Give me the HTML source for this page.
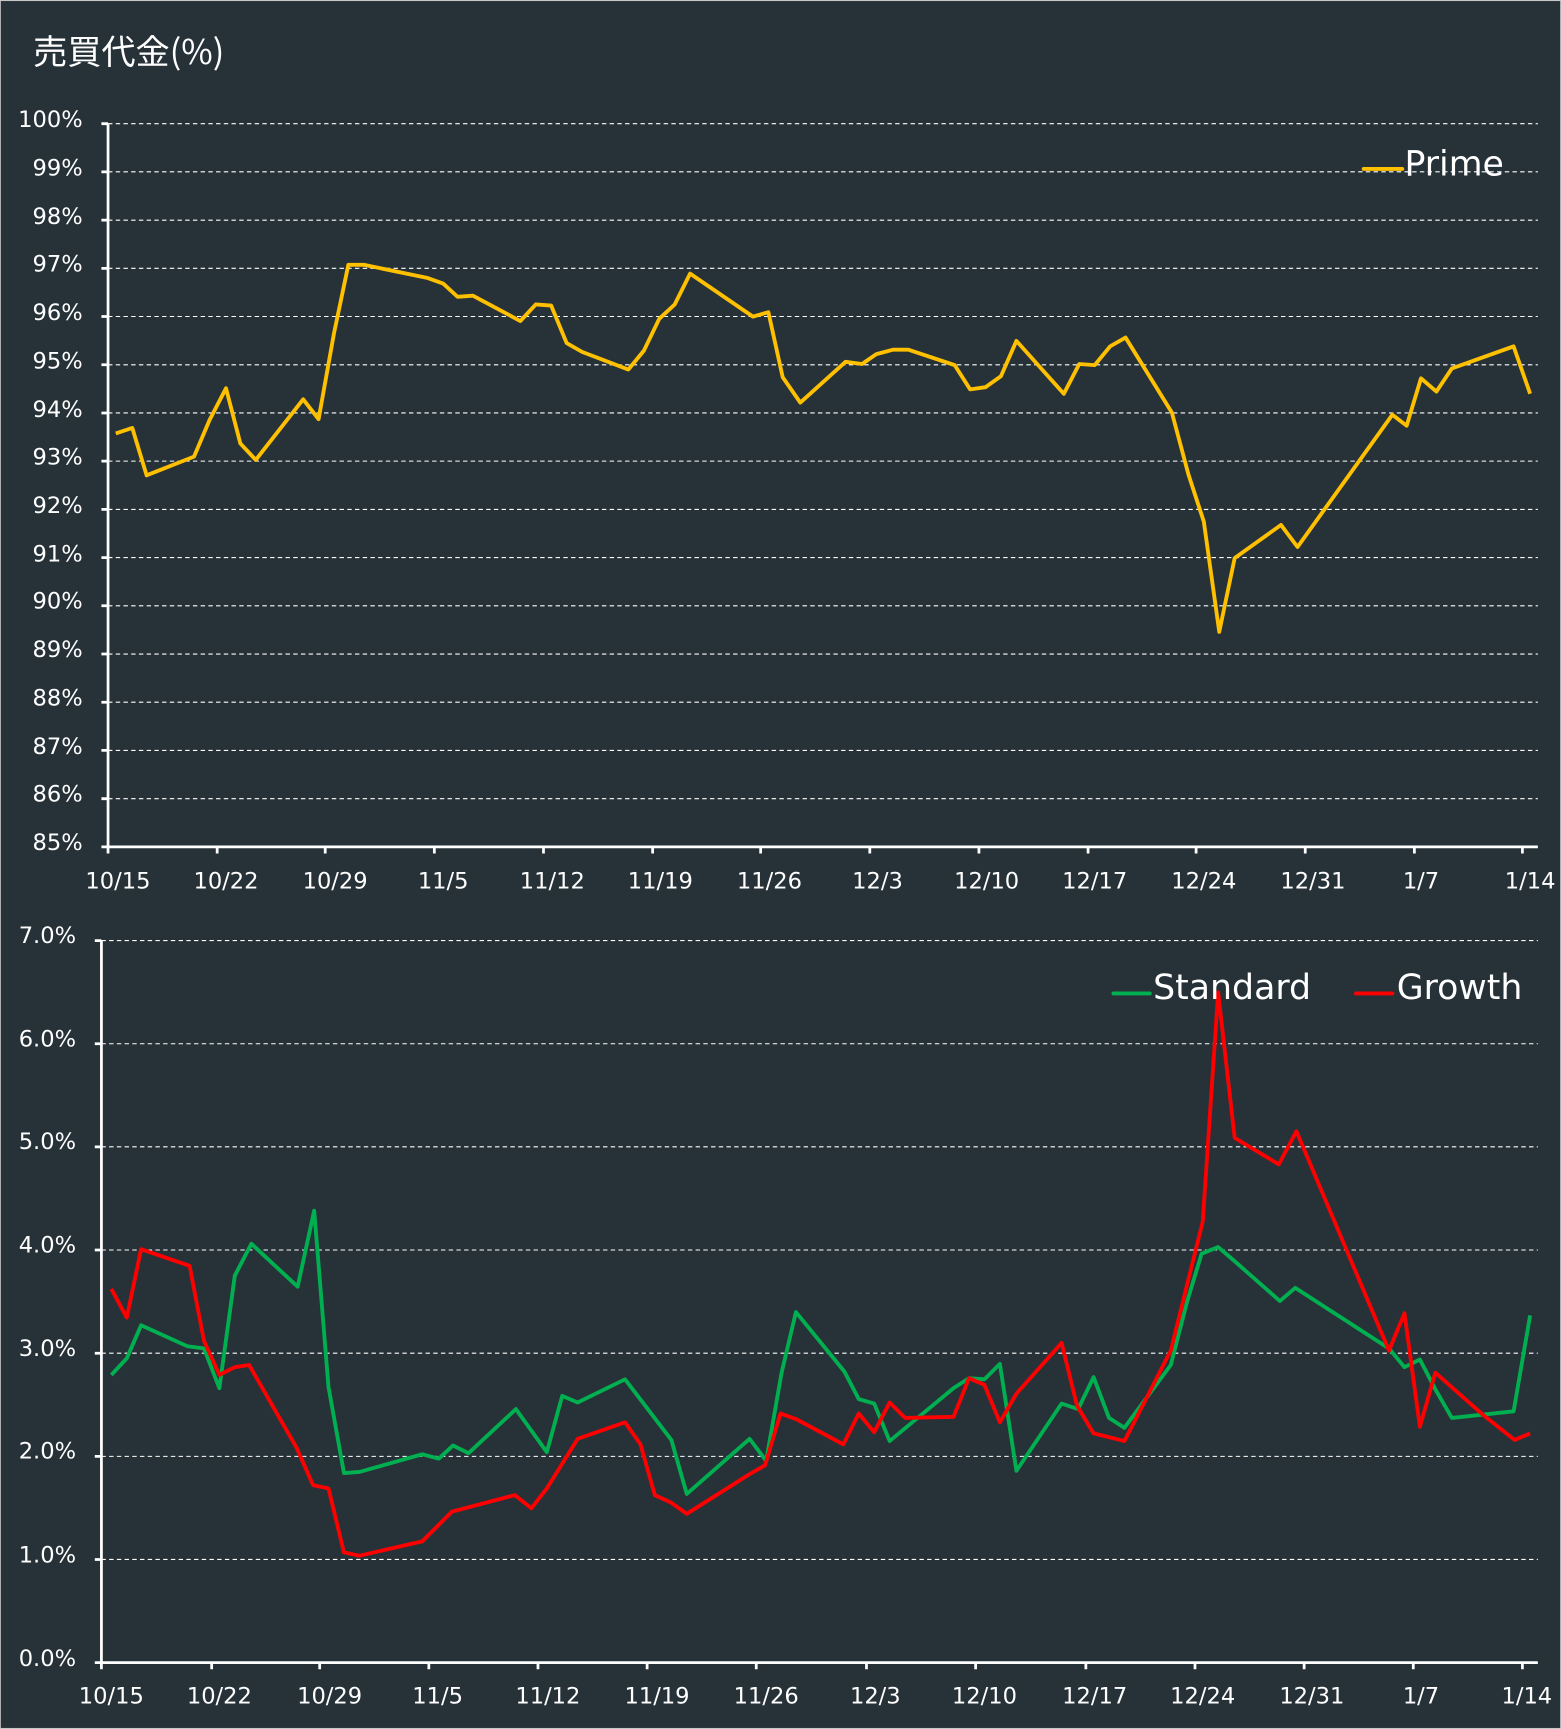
<!DOCTYPE html>
<html><head><meta charset="utf-8"><style>
html,body{margin:0;padding:0;background:#263238;}
svg{display:block;}
text{font-family:"DejaVu Sans","Liberation Sans","Noto Sans CJK JP",sans-serif;fill:#fff;}
</style></head><body>
<svg width="1561" height="1729" viewBox="0 0 1416 1568" xmlns="http://www.w3.org/2000/svg">
<rect x="0" y="0" width="1416" height="1568" fill="#263238" stroke="#c8c8c8" stroke-width="1.5"/>
<text x="30" y="58" font-size="31" style="font-family:'Noto Sans CJK JP',sans-serif">売買代金(%)</text>
<g stroke="#fff" stroke-width="1" stroke-dasharray="4,3">
<line x1="98" x2="1395" y1="112" y2="112"/><line x1="98" x2="1395" y1="155.7" y2="155.7"/><line x1="98" x2="1395" y1="199.5" y2="199.5"/><line x1="98" x2="1395" y1="243.2" y2="243.2"/><line x1="98" x2="1395" y1="286.9" y2="286.9"/><line x1="98" x2="1395" y1="330.7" y2="330.7"/><line x1="98" x2="1395" y1="374.4" y2="374.4"/><line x1="98" x2="1395" y1="418.1" y2="418.1"/><line x1="98" x2="1395" y1="461.9" y2="461.9"/><line x1="98" x2="1395" y1="505.6" y2="505.6"/><line x1="98" x2="1395" y1="549.3" y2="549.3"/><line x1="98" x2="1395" y1="593.1" y2="593.1"/><line x1="98" x2="1395" y1="636.8" y2="636.8"/><line x1="98" x2="1395" y1="680.5" y2="680.5"/><line x1="98" x2="1395" y1="724.3" y2="724.3"/>
<line x1="92" x2="1395" y1="853" y2="853"/><line x1="92" x2="1395" y1="946.6" y2="946.6"/><line x1="92" x2="1395" y1="1040.1" y2="1040.1"/><line x1="92" x2="1395" y1="1133.7" y2="1133.7"/><line x1="92" x2="1395" y1="1227.3" y2="1227.3"/><line x1="92" x2="1395" y1="1320.9" y2="1320.9"/><line x1="92" x2="1395" y1="1414.4" y2="1414.4"/>
</g>
<g stroke="#fff" stroke-width="2.5" fill="none">
<path d="M98 112V768H1395"/>
<path d="M92 853V1508H1395"/>
<path d="M92 112h6M92 155.7h6M92 199.5h6M92 243.2h6M92 286.9h6M92 330.7h6M92 374.4h6M92 418.1h6M92 461.9h6M92 505.6h6M92 549.3h6M92 593.1h6M92 636.8h6M92 680.5h6M92 724.3h6M92 768h6"/>
<path d="M86 853h6M86 946.6h6M86 1040.1h6M86 1133.7h6M86 1227.3h6M86 1320.9h6M86 1414.4h6M86 1508h6"/>
<path d="M98 768v6M197 768v6M295 768v6M394 768v6M493 768v6M592 768v6M690 768v6M789 768v6M888 768v6M987 768v6M1085 768v6M1184 768v6M1283 768v6M1381 768v6"/>
<path d="M92 1508v6M192 1508v6M290 1508v6M389 1508v6M488 1508v6M587 1508v6M686 1508v6M786 1508v6M885 1508v6M985 1508v6M1084 1508v6M1183 1508v6M1282 1508v6M1381 1508v6"/>
</g>
<g font-size="20.5" text-anchor="end">
<text x="75" y="115">100%</text><text x="75" y="159">99%</text><text x="75" y="203">98%</text><text x="75" y="246">97%</text><text x="75" y="290">96%</text><text x="75" y="334">95%</text><text x="75" y="378">94%</text><text x="75" y="421">93%</text><text x="75" y="465">92%</text><text x="75" y="509">91%</text><text x="75" y="552">90%</text><text x="75" y="596">89%</text><text x="75" y="640">88%</text><text x="75" y="684">87%</text><text x="75" y="727">86%</text><text x="75" y="771">85%</text>
<text x="69" y="855">7.0%</text><text x="69" y="949">6.0%</text><text x="69" y="1042">5.0%</text><text x="69" y="1136">4.0%</text><text x="69" y="1230">3.0%</text><text x="69" y="1323">2.0%</text><text x="69" y="1417">1.0%</text><text x="69" y="1511">0.0%</text>
</g>
<g font-size="20.5" text-anchor="middle">
<text x="107" y="806">10/15</text><text x="205" y="806">10/22</text><text x="304" y="806">10/29</text><text x="402" y="806">11/5</text><text x="501" y="806">11/12</text><text x="599" y="806">11/19</text><text x="698" y="806">11/26</text><text x="796" y="806">12/3</text><text x="895" y="806">12/10</text><text x="993" y="806">12/17</text><text x="1092" y="806">12/24</text><text x="1191" y="806">12/31</text><text x="1289" y="806">1/7</text><text x="1388" y="806">1/14</text>
<text x="101" y="1545">10/15</text><text x="199" y="1545">10/22</text><text x="299" y="1545">10/29</text><text x="397" y="1545">11/5</text><text x="497" y="1545">11/12</text><text x="596" y="1545">11/19</text><text x="695" y="1545">11/26</text><text x="794" y="1545">12/3</text><text x="893" y="1545">12/10</text><text x="993" y="1545">12/17</text><text x="1091" y="1545">12/24</text><text x="1190" y="1545">12/31</text><text x="1289" y="1545">1/7</text><text x="1385" y="1545">1/14</text>
</g>
<g fill="none" stroke-width="3.5" stroke-linejoin="round">
<polyline stroke="#ffc000" points="105,393 120,388 133,431 176,414 190,381 205,352 218,402 232,417 275,362 289,380 303,302 316,240 330,240 388,252 402,257 415,269 429,268 472,291 486,276 500,277 514,311 528,319 570,335 584,318 598,289 612,276 626,248 683,287 697,283 710,342 726,365 767,328 782,330 795,321 810,317 824,317 866,331 880,353 894,351 908,341 922,309 965,357 979,330 993,331 1007,314 1021,306 1063,374 1078,430 1092,473 1106,573 1120,506 1162,476 1177,496 1263,376 1276,386 1289,343 1303,355 1317,334 1373,314 1388,357"/>
<polyline stroke="#00b050" points="101,1247 115,1232 128,1202 170,1221 185,1223 199,1259 213,1157 228,1128 270,1167 285,1098 298,1258 312,1336 326,1335 383,1319 398,1323 411,1311 425,1318 468,1278 496,1317 510,1266 524,1272 567,1251 609,1306 623,1355 680,1305 695,1325 709,1245 722,1190 766,1244 779,1269 793,1273 807,1307 865,1259 879,1250 893,1251 907,1237 922,1334 963,1273 978,1278 992,1249 1006,1286 1020,1295 1062,1238 1077,1180 1090,1137 1105,1131 1119,1143 1161,1180 1175,1168 1260,1223 1274,1240 1288,1233 1302,1260 1317,1286 1373,1280 1388,1193"/>
<polyline stroke="#ff0000" points="101,1169 115,1195 128,1133 172,1148 185,1216 199,1247 213,1240 226,1238 269,1313 284,1347 298,1350 312,1408 326,1411 383,1398 410,1371 467,1356 482,1368 496,1350 524,1305 567,1290 581,1310 594,1356 609,1363 623,1373 680,1337 694,1329 708,1282 722,1287 765,1310 779,1282 793,1299 807,1272 821,1286 865,1285 879,1250 893,1256 907,1290 922,1264 963,1218 977,1275 992,1300 1020,1307 1062,1225 1091,1108 1105,900 1120,1032 1160,1056 1176,1026 1260,1225 1274,1191 1288,1294 1302,1245 1345,1283 1374,1306 1388,1300"/>
</g>
<g stroke-width="3.5" stroke-linecap="round">
<line x1="1237" x2="1272" y1="153" y2="153" stroke="#ffc000"/>
<line x1="1010" x2="1043" y1="901" y2="901" stroke="#00b050"/>
<line x1="1230" x2="1263" y1="901" y2="901" stroke="#ff0000"/>
</g>
<text x="1274" y="159" font-size="31.5">Prime</text>
<text x="1046" y="906" font-size="31.5">Standard</text>
<text x="1267" y="906" font-size="31.5">Growth</text>
</svg>
</body></html>
